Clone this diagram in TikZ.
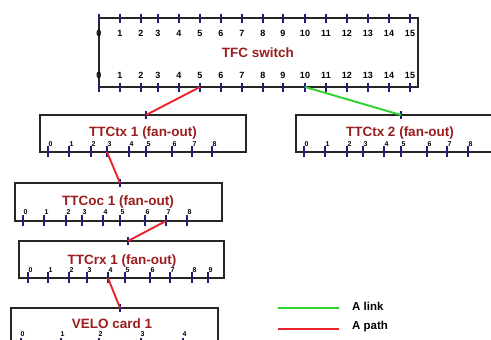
\documentclass[tikz,border=0pt]{standalone}
\usepackage{fontspec}
\setmainfont{Liberation Sans}
\definecolor{boxc}{HTML}{262626}
\definecolor{tickc}{HTML}{1E1E78}
\definecolor{titc}{HTML}{9A1E1E}
\definecolor{redl}{HTML}{E8232A}
\definecolor{greenl}{HTML}{2ED32E}
\tikzset{
  unit/.style={draw=boxc,line width=1.9pt},
  tk/.style={draw=tickc,line width=1.8pt},
  biglab/.style={font=\bfseries\fontsize{9}{10}\selectfont,inner sep=0pt},
  smalllab/.style={font=\bfseries\fontsize{7}{8}\selectfont,inner sep=0pt},
  ttl/.style={font=\bfseries\fontsize{13.5}{14}\selectfont,text=titc,inner sep=0pt},
  leg/.style={font=\bfseries\fontsize{11.5}{12}\selectfont,inner sep=0pt,anchor=west},
  pathl/.style={draw=redl,line width=1.9pt},
  linkl/.style={draw=greenl,line width=1.9pt}
}
\begin{document}
\begin{tikzpicture}[x=1pt,y=-1pt]
\useasboundingbox (0,0) rectangle (491,340);
\clip (0,0) rectangle (491,340);
% ---------- TFC switch ----------
\draw[unit] (99,18) rectangle (418,87);
\node[ttl] (tfc) at (258,53) {TFC switch};
\foreach \x/\l in {99/0,120/1,141/2,158/3,179/4,200/5,221/6,242/7,263/8,283/9,305/10,326/11,347/12,368/13,389/14,410/15}{
  \draw[tk] (\x,13.5) -- (\x,22.5);
  \draw[tk] (\x,82.5) -- (\x,91.5);
  \node[biglab] at (\x,33) {\l};
  \node[biglab] at (\x,75) {\l};
}
\coordinate (tfc5) at (200,87);
\coordinate (tfc10) at (305,87);
% ---------- TTCtx 1 ----------
\draw[unit] (40,115) rectangle (246,152);
\node[ttl] (ttctx1) at (143,133) {TTCtx 1 (fan-out)};
\draw[tk] (146,111) -- (146,119);
\coordinate (tx1in) at (146,115);
\foreach \x/\l in {48/0,69/1,91/2,107/3,129/4,146/5,172/6,192/7,212/8}{
  \draw[tk] (\x,146) -- (\x,157);
  \node[smalllab] at (\x+2.5,144) {\l};
}
\coordinate (tx1o3) at (107,152);
% ---------- TTCtx 2 ----------
\draw[unit] (296,115) rectangle (500,152);
\node[ttl] (ttctx2) at (400,133) {TTCtx 2 (fan-out)};
\draw[tk] (401,111) -- (401,119);
\coordinate (tx2in) at (401,115);
\foreach \x/\l in {304/0,325/1,347/2,363/3,384/4,401/5,427/6,447/7,468/8}{
  \draw[tk] (\x,146) -- (\x,157);
  \node[smalllab] at (\x+2.5,144) {\l};
}
% ---------- TTCoc 1 ----------
\draw[unit] (15,183) rectangle (222,221);
\node[ttl] (ttcoc1) at (118,202) {TTCoc 1 (fan-out)};
\draw[tk] (120,179) -- (120,187);
\coordinate (ocin) at (120,183);
\foreach \x/\l in {23/0,44/1,66/2,82/3,103/4,120/5,145/6,166/7,187/8}{
  \draw[tk] (\x,215) -- (\x,226);
  \node[smalllab] at (\x+2.5,212) {\l};
}
\coordinate (oco7) at (166,221);
% ---------- TTCrx 1 ----------
\draw[unit] (19,241) rectangle (224,278);
\node[ttl] (ttcrx1) at (122,261) {TTCrx 1 (fan-out)};
\draw[tk] (128,237) -- (128,245);
\coordinate (rxin) at (128,241);
\foreach \x/\l in {28/0,48/1,69/2,87/3,108/4,125/5,150/6,170/7,192/8,208/9}{
  \draw[tk] (\x,272) -- (\x,283);
  \node[smalllab] at (\x+2.5,270) {\l};
}
\coordinate (rxo4) at (108,278);
% ---------- VELO card 1 ----------
\draw[unit] (11,308) rectangle (218,346);
\node[ttl] (velo) at (112,324) {VELO card 1};
\draw[tk] (120,304) -- (120,312);
\coordinate (veloin) at (120,308);
\foreach \x/\l in {21/0,61/1,99/2,141/3,183/4}{
  \draw[tk] (\x,338) -- (\x,349);
  \node[smalllab] at (\x+1.5,334) {\l};
}
% ---------- connections ----------
\draw[pathl] (tfc5) -- (tx1in);
\draw[linkl] (tfc10) -- (tx2in);
\draw[pathl] (tx1o3) -- (ocin);
\draw[pathl] (oco7) -- (rxin);
\draw[pathl] (rxo4) -- (veloin);
% ---------- legend ----------
\coordinate (lg1a) at (278,308);
\coordinate (lg1b) at (339,308);
\coordinate (lg2a) at (278,329);
\coordinate (lg2b) at (339,329);
\draw[linkl] (lg1a) -- (lg1b);
\draw[pathl] (lg2a) -- (lg2b);
\node[leg] (leglink) at (352,306) {A link};
\node[leg] (legpath) at (352,327) {A path};
\end{tikzpicture}
\end{document}
